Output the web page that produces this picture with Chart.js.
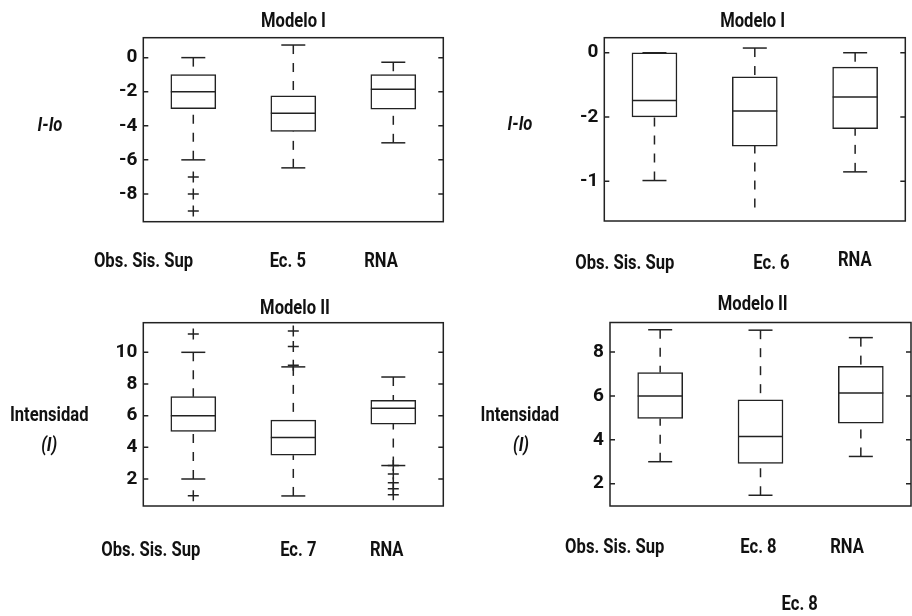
<!DOCTYPE html>
<html>
<head>
<meta charset="utf-8">
<script src="https://cdn.jsdelivr.net/npm/chart.js@4.4.1/dist/chart.umd.min.js"></script>
<style>
  html, body { margin: 0; padding: 0; background: #fff; }
  #wrap { position: relative; width: 912px; height: 616px; overflow: hidden; }
  canvas { position: absolute; }
</style>
</head>
<body>
<div id="wrap">
  <canvas id="p1" width="456" height="290" style="left:0;top:0"></canvas>
  <canvas id="p2" width="456" height="290" style="left:456px;top:0"></canvas>
  <canvas id="p3" width="456" height="326" style="left:0;top:290px"></canvas>
  <canvas id="p4" width="456" height="326" style="left:456px;top:290px"></canvas>
</div>
<script>
// Box plot values (whisker ends, quartiles, medians, outliers)

// Modelo I, Ec. 5 (top left)
const CATS_1 = ['Obs. Sis. Sup', 'Ec. 5', 'RNA'];
const LOW_1 = [-6.0, -6.47, -5.0];
const Q1_1 = [-3.0, -4.33, -3.02];
const MED_1 = [-2.0, -3.27, -1.85];
const Q3_1 = [-1.0, -2.24, -1.0];
const HIGH_1 = [0.0, 0.74, -0.27];
const OUT_1 = [[-7, -8, -9], [], []];
const TICKS_1 = [0, -2, -4, -6, -8];
const TICK_LABELS_1 = ['0', '-2', '-4', '-6', '-8'];

// Modelo I, Ec. 6 (top right) - the axis labels in the figure read 0, -2, -1
const CATS_2 = ['Obs. Sis. Sup', 'Ec. 6', 'RNA'];
const LOW_2 = [-1.99, -2.41, -1.855];
const Q1_2 = [-1.0, -1.454, -1.184];
const MED_2 = [-0.742, -0.909, -0.69];
const Q3_2 = [0.0, -0.374, -0.223];
const HIGH_2 = [0.0, 0.073, 0.0];
const OUT_2 = [[], [], []];
const TICKS_2 = [0, -1, -2];
const TICK_LABELS_2 = ['0', '-2', '-1'];

// Modelo II, Ec. 7 (bottom left)
const CATS_3 = ['Obs. Sis. Sup', 'Ec. 7', 'RNA'];
const LOW_3 = [2.0, 0.93, 2.85];
const Q1_3 = [5.0, 3.5, 5.47];
const MED_3 = [6.0, 4.62, 6.46];
const Q3_3 = [7.2, 5.72, 6.97];
const HIGH_3 = [10.0, 9.08, 8.44];
const OUT_3 = [[11.15, 0.95], [11.35, 10.36, 9.18], [2.85, 2.32, 1.76, 1.38, 1.0]];
const TICKS_3 = [2, 4, 6, 8, 10];
const TICK_LABELS_3 = ['2', '4', '6', '8', '10'];

// Modelo II, Ec. 8 (bottom right)
const CATS_4 = ['Obs. Sis. Sup', 'Ec. 8', 'RNA'];
const LOW_4 = [3.0, 1.47, 3.24];
const Q1_4 = [4.97, 2.92, 4.76];
const MED_4 = [6.0, 4.15, 6.13];
const Q3_4 = [7.07, 5.82, 7.35];
const HIGH_4 = [9.02, 9.0, 8.66];
const OUT_4 = [[], [], []];
const TICKS_4 = [2, 4, 6, 8];
const TICK_LABELS_4 = ['2', '4', '6', '8'];

const INK = '#222';
const FONT = 'Roboto';
const SQUEEZE = 0.83; // the figure uses a condensed face, Roboto is squeezed to match
const BOX_W = 45;
const CAP_W = 24;

Chart.defaults.font.family = FONT;
Chart.defaults.font.size = 19;
Chart.defaults.font.weight = 'bold';
Chart.defaults.color = '#111';

// whiskers, caps, medians, frame with inward ticks, and the free-standing texts
const boxParts = {
  id: 'boxParts',
  afterDatasetsDraw(chart, args, o) {
    const ctx = chart.ctx, a = chart.chartArea;
    const xs = chart.scales.x, ys = chart.scales.y;
    ctx.save();
    ctx.strokeStyle = INK;
    ctx.lineWidth = 1.5;
    o.med.forEach((m, i) => {
      const cx = xs.getPixelForValue(i);
      const seg = (x1, y1, x2, y2, dash) => {
        ctx.setLineDash(dash || []);
        ctx.beginPath(); ctx.moveTo(x1, y1); ctx.lineTo(x2, y2); ctx.stroke();
      };
      // whiskers
      if (o.high[i] > o.q3[i]) seg(cx, ys.getPixelForValue(o.high[i]), cx, ys.getPixelForValue(o.q3[i]), [9, 9]);
      if (o.low[i] < o.q1[i]) seg(cx, ys.getPixelForValue(o.low[i]), cx, ys.getPixelForValue(o.q1[i]), [9, 9]);
      // caps
      seg(cx - CAP_W / 2, ys.getPixelForValue(o.high[i]), cx + CAP_W / 2, ys.getPixelForValue(o.high[i]));
      if (!(o.noLowCap && o.noLowCap[i])) {
        seg(cx - CAP_W / 2, ys.getPixelForValue(o.low[i]), cx + CAP_W / 2, ys.getPixelForValue(o.low[i]));
      }
      // median
      const my = ys.getPixelForValue(m);
      seg(cx - BOX_W / 2, my, cx + BOX_W / 2, my);
    });
    ctx.setLineDash([]);
    ctx.strokeRect(a.left, a.top, a.right - a.left, a.bottom - a.top);
    ys.ticks.forEach(t => {
      const py = ys.getPixelForValue(t.value);
      ctx.beginPath();
      ctx.moveTo(a.left, py); ctx.lineTo(a.left + 5, py);
      ctx.moveTo(a.right - 5, py); ctx.lineTo(a.right, py);
      ctx.stroke();
    });
    ctx.fillStyle = '#111';
    ctx.textAlign = 'center';
    ctx.textBaseline = 'alphabetic';
    o.texts.forEach(t => {
      ctx.font = (t.italic ? 'italic ' : '') + 'bold 20px ' + FONT;
      ctx.save();
      ctx.translate(t.x - o.ox, t.y - o.oy);
      ctx.scale(SQUEEZE, 1);
      ctx.fillText(t.text, 0, 0);
      ctx.restore();
    });
    ctx.restore();
  }
};

function makePanel(id, d, lay) {
  const outliers = [];
  d.out.forEach((arr, i) => arr.forEach(v => outliers.push({ x: d.cats[i], y: v })));
  const texts = lay.texts.concat(d.cats.map((c, i) => ({ text: c, x: lay.xlab[i][0], y: lay.xlab[i][1] })));
  return new Chart(document.getElementById(id), {
    type: 'bar',
    data: {
      labels: d.cats,
      datasets: [
        {
          type: 'bar',
          data: d.q1.map((q, i) => [q, d.q3[i]]),
          backgroundColor: '#fff',
          borderColor: INK,
          borderWidth: 1.5,
          borderSkipped: false,
          barThickness: BOX_W
        },
        {
          type: 'line',
          data: outliers,
          showLine: false,
          pointStyle: 'cross',
          pointRadius: 5.5,
          pointBorderColor: INK,
          pointBorderWidth: 1.5
        }
      ]
    },
    options: {
      responsive: false,
      animation: false,
      layout: { padding: { left: 0, top: lay.top, right: lay.right, bottom: lay.bottom } },
      plugins: {
        legend: { display: false },
        tooltip: { enabled: false },
        boxParts: {
          low: d.low, q1: d.q1, med: d.med, q3: d.q3, high: d.high,
          noLowCap: lay.noLowCap, texts: texts, ox: lay.ox, oy: lay.oy
        }
      },
      scales: {
        x: { display: false, offset: true },
        y: {
          min: lay.min, max: lay.max,
          grid: { display: false, drawTicks: false },
          border: { display: false },
          afterBuildTicks: s => { s.ticks = d.ticks.map(v => ({ value: v })); },
          afterFit: s => { s.width = lay.left; },
          ticks: { padding: 6, callback: (v, i) => d.tickLabels[i] }
        }
      }
    },
    plugins: [boxParts]
  });
}

makePanel('p1',
  { cats: CATS_1, low: LOW_1, q1: Q1_1, med: MED_1, q3: Q3_1, high: HIGH_1, out: OUT_1, ticks: TICKS_1, tickLabels: TICK_LABELS_1 },
  { ox: 0, oy: 0, left: 143.3, top: 37.7, right: 12.7, bottom: 68.3, min: -9.63, max: 1.17,
    texts: [{ text: 'Modelo I', x: 293.5, y: 26.5 }, { text: 'I-Io', x: 50, y: 130.5, italic: true }],
    xlab: [[143.5, 266.5], [287.8, 266.5], [381, 266.5]] });

makePanel('p2',
  { cats: CATS_2, low: LOW_2, q1: Q1_2, med: MED_2, q3: Q3_2, high: HIGH_2, out: OUT_2, ticks: TICKS_2, tickLabels: TICK_LABELS_2 },
  { ox: 456, oy: 0, left: 148.3, top: 37.7, right: 6.7, bottom: 69, min: -2.62, max: 0.234,
    noLowCap: [false, true, false],
    texts: [{ text: 'Modelo I', x: 752.7, y: 26.7 }, { text: 'I-Io', x: 520, y: 130, italic: true }],
    xlab: [[624.8, 269.3], [771.5, 269.3], [854.8, 265.7]] });

makePanel('p3',
  { cats: CATS_3, low: LOW_3, q1: Q1_3, med: MED_3, q3: Q3_3, high: HIGH_3, out: OUT_3, ticks: TICKS_3, tickLabels: TICK_LABELS_3 },
  { ox: 0, oy: 290, left: 143.3, top: 32.7, right: 12.7, bottom: 110, min: 0.295, max: 11.87,
    texts: [{ text: 'Modelo II', x: 295, y: 314 }, { text: 'Intensidad', x: 49.2, y: 420.7 },
            { text: '(I)', x: 49.2, y: 451, italic: true }],
    xlab: [[150.8, 556], [298.3, 556], [386.7, 556]] });

makePanel('p4',
  { cats: CATS_4, low: LOW_4, q1: Q1_4, med: MED_4, q3: Q3_4, high: HIGH_4, out: OUT_4, ticks: TICKS_4, tickLabels: TICK_LABELS_4 },
  { ox: 456, oy: 290, left: 154, top: 32.5, right: 1, bottom: 110, min: 0.98, max: 9.35,
    texts: [{ text: 'Modelo II', x: 752.7, y: 310 }, { text: 'Intensidad', x: 519.8, y: 420.7 },
            { text: '(I)', x: 521, y: 451, italic: true }, { text: 'Ec. 8', x: 799.7, y: 610 }],
    xlab: [[614.7, 552.7], [758.5, 552.7], [847, 552.7]] });
</script>
</body>
</html>
